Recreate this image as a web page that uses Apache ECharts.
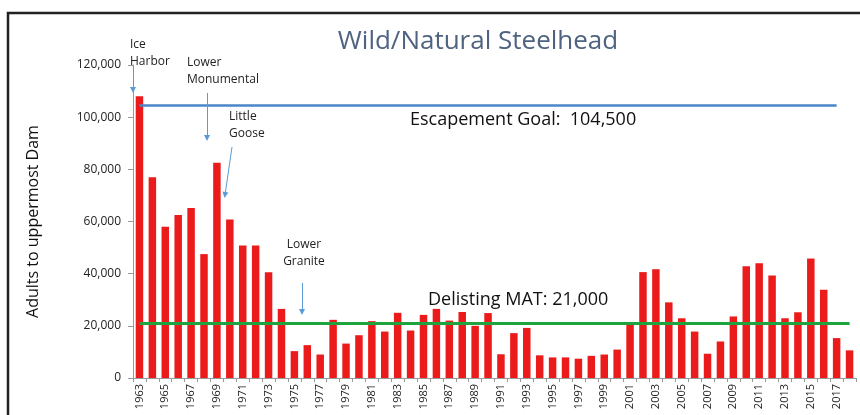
<!DOCTYPE html>
<html>
<head>
<meta charset="utf-8">
<script src="https://cdn.jsdelivr.net/npm/echarts@6/dist/echarts.min.js"></script>
<style>
  html, body { margin: 0; padding: 0; background: #fff; }
  #chart { width: 860px; height: 415px; }
</style>
</head>
<body>
<div id="chart"></div>
<script>
// adult returns counted at the uppermost dam, by year
const years = [
  '1963','1964','1965','1966','1967','1968','1969','1970','1971','1972',
  '1973','1974','1975','1976','1977','1978','1979','1980','1981','1982',
  '1983','1984','1985','1986','1987','1988','1989','1990','1991','1992',
  '1993','1994','1995','1996','1997','1998','1999','2000','2001','2002',
  '2003','2004','2005','2006','2007','2008','2009','2010','2011','2012',
  '2013','2014','2015','2016','2017','2018'
];
const adults = [
  108000, 77000, 58000, 62500, 65200, 47500, 82500, 60800, 50800, 50800,
  40500, 26500, 10300, 12600, 9000, 22300, 13200, 16400, 21800, 17800,
  25000, 18200, 24200, 26500, 22000, 25300, 20000, 24900, 9100, 17200,
  19200, 8700, 7900, 7900, 7400, 8500, 9000, 10900, 20500, 40600,
  41700, 29000, 22900, 17800, 9300, 14000, 23600, 42800, 44000, 39300,
  22900, 25200, 45800, 33800, 15300, 10600
];
const escapementGoal = 104500;
const delistingMat = 21000;
const yTicks = [0, 20000, 40000, 60000, 80000, 100000, 120000];

const font = 'Open Sans';
const textDark = '#222';
const arrowColor = '#5b9bd5';

const chart = echarts.init(document.getElementById('chart'));

function arrow(x1, y1, x2, y2) {
  return [{x: x1, y: y1}, {x: x2, y: y2}];
}

function note(x, y, text, align) {
  return {
    type: 'text', x: x, y: y, z: 10,
    style: {
      text: text, fill: textDark, font: '12px "' + font + '"',
      textAlign: align || 'left', textVerticalAlign: 'middle', lineHeight: 17
    }
  };
}

const option = {
  animation: false,
  backgroundColor: '#fff',
  grid: {left: 133, right: 4, top: 65, bottom: 37},
  xAxis: {
    type: 'category',
    data: years,
    axisLine: {lineStyle: {color: '#999', width: 1}},
    axisTick: {show: true, interval: 0, length: 4, lineStyle: {color: '#999'}},
    axisLabel: {
      interval: 1, rotate: 90, margin: 6,
      color: textDark, fontFamily: font, fontSize: 11
    }
  },
  yAxis: {
    type: 'value',
    min: yTicks[0],
    max: yTicks[yTicks.length - 1],
    interval: 20000,
    name: 'Adults to uppermost Dam',
    nameLocation: 'middle',
    nameRotate: 90,
    nameGap: 92,
    nameTextStyle: {color: '#111', fontFamily: font, fontSize: 16},
    splitLine: {show: false},
    axisLine: {show: true, lineStyle: {color: '#999'}},
    axisTick: {show: true, length: 5, lineStyle: {color: '#999'}},
    axisLabel: {
      color: textDark, fontFamily: font, fontSize: 12, margin: 12,
      formatter: v => v.toLocaleString('en-US')
    }
  },
  series: [
    {
      name: 'Adults',
      type: 'bar',
      data: adults,
      barCategoryGap: '42%',
      itemStyle: {color: '#ec1b1b'},
      markLine: {
        silent: true,
        symbol: 'none',
        label: {show: false},
        data: [
          [{coord: ['1963', escapementGoal], lineStyle: {color: '#4a86c8', width: 2.5, type: 'solid'}},
           {coord: ['2017', escapementGoal]}],
          [{coord: ['1963', delistingMat], lineStyle: {color: '#1fa33f', width: 3, type: 'solid'}},
           {coord: ['2018', delistingMat]}]
        ]
      }
    },
    {
      // dam completion arrows
      type: 'line',
      data: [],
      markLine: {
        silent: true,
        symbol: ['none', 'triangle'],
        symbolSize: [6, 6],
        label: {show: false},
        lineStyle: {color: arrowColor, width: 1, type: 'solid'},
        data: [
          arrow(133, 66, 133, 90),
          arrow(207, 93, 207, 138),
          arrow(232, 147, 225, 195),
          arrow(302, 283, 302, 312)
        ]
      }
    }
  ],
  graphic: [
    {
      type: 'rect', z: -1, silent: true,
      shape: {x: 8, y: 13, width: 900, height: 450},
      style: {fill: '#fff', stroke: '#222', lineWidth: 2.5}
    },
    {
      type: 'text', x: 478, y: 42, z: 10,
      style: {
        text: 'Wild/Natural Steelhead', fill: '#4f6381',
        font: '26px "' + font + '"', textAlign: 'center', textVerticalAlign: 'middle'
      }
    },
    {
      type: 'text', x: 410, y: 120, z: 10,
      style: {
        text: 'Escapement Goal:  104,500', fill: '#111',
        font: '18px "' + font + '"', textAlign: 'left', textVerticalAlign: 'middle'
      }
    },
    {
      type: 'text', x: 428, y: 300, z: 10,
      style: {
        text: 'Delisting MAT: 21,000', fill: '#111',
        font: '18px "' + font + '"', textAlign: 'left', textVerticalAlign: 'middle'
      }
    },
    note(130, 53, 'Ice\nHarbor'),
    note(187, 71, 'Lower\nMonumental'),
    note(229, 125, 'Little\nGoose'),
    note(304, 253, 'Lower\nGranite', 'center')
  ]
};

chart.setOption(option);
</script>
</body>
</html>
